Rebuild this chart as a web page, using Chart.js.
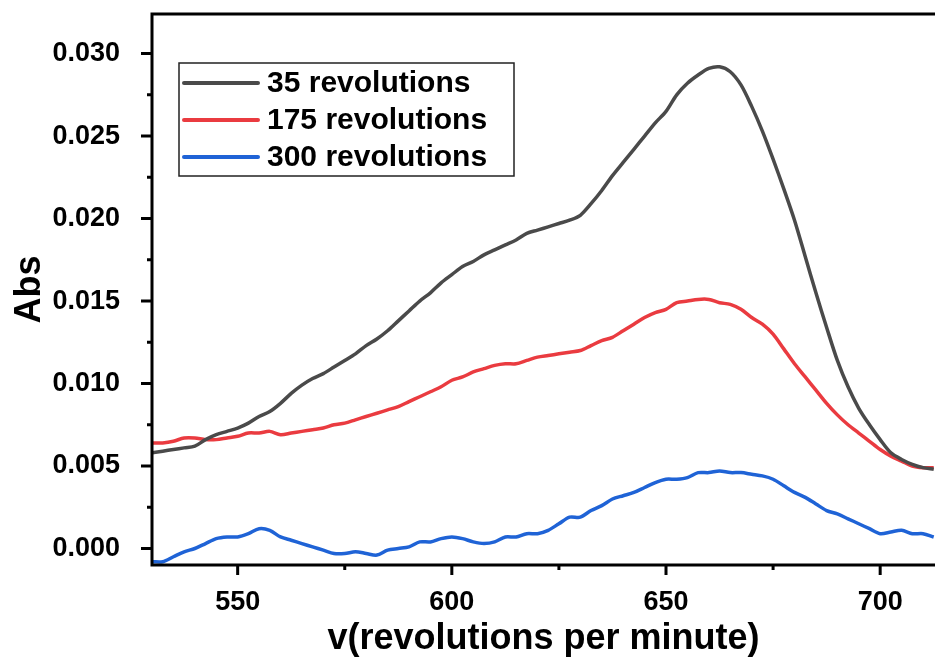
<!DOCTYPE html>
<html>
  <head>
    <title>Abs vs revolutions</title>
    <script src="https://cdn.jsdelivr.net/npm/chart.js"></script>
    <style>
      html,
      body {
        margin: 0;
        padding: 0;
        background: #fff;
      }
      #wrap {
        width: 935px;
        height: 661px;
      }
    </style>
  </head>
  <body>
    <div id="wrap"><canvas id="absChart"></canvas></div>

    <script>
      // x values (revolutions per minute), step 2.5
      const rpm = [
        530, 532.5, 535, 537.5, 540, 542.5, 545, 547.5, 550, 552.5, 555, 557.5,
        560, 562.5, 565, 567.5, 570, 572.5, 575, 577.5, 580, 582.5, 585, 587.5,
        590, 592.5, 595, 597.5, 600, 602.5, 605, 607.5, 610, 612.5, 615, 617.5,
        620, 622.5, 625, 627.5, 630, 632.5, 635, 637.5, 640, 642.5, 645, 647.5,
        650, 652.5, 655, 657.5, 660, 662.5, 665, 667.5, 670, 672.5, 675, 677.5,
        680, 682.5, 685, 687.5, 690, 692.5, 695, 697.5, 700, 702.5, 705, 707.5,
        710, 712.5,
      ];

      const rev35 = [
        0.0058, 0.0059, 0.006, 0.0061, 0.0062, 0.0066, 0.0069, 0.0071, 0.0073,
        0.0076, 0.008, 0.0083, 0.0088, 0.0094, 0.0099, 0.0103, 0.0106, 0.011,
        0.0114, 0.0118, 0.0123, 0.0127, 0.0132, 0.0138, 0.0144, 0.015, 0.0155,
        0.0161, 0.0166, 0.0171, 0.0174, 0.0178, 0.0181, 0.0184, 0.0187, 0.0191,
        0.0193, 0.0195, 0.0197, 0.0199, 0.0202, 0.0209, 0.0217, 0.0226, 0.0234,
        0.0242, 0.025, 0.0258, 0.0265, 0.0275, 0.0282, 0.0287, 0.0291, 0.0292,
        0.0289, 0.0281, 0.0268, 0.0253, 0.0236, 0.0218, 0.0199, 0.0177, 0.0155,
        0.0134, 0.0114, 0.0098, 0.0085, 0.0075, 0.0066, 0.0058, 0.0054, 0.0051,
        0.0049, 0.0048,
      ];

      const rev175 = [
        0.0064, 0.0064, 0.0065, 0.0067, 0.0067, 0.0066, 0.0066, 0.0067, 0.0068,
        0.007, 0.007, 0.0071, 0.0069, 0.007, 0.0071, 0.0072, 0.0073, 0.0075,
        0.0076, 0.0078, 0.008, 0.0082, 0.0084, 0.0086, 0.0089, 0.0092, 0.0095,
        0.0098, 0.0102, 0.0104, 0.0107, 0.0109, 0.0111, 0.0112, 0.0112, 0.0114,
        0.0116, 0.0117, 0.0118, 0.0119, 0.012, 0.0123, 0.0126, 0.0128, 0.0132,
        0.0136, 0.014, 0.0143, 0.0145, 0.0149, 0.015, 0.0151, 0.0151, 0.0149,
        0.0148, 0.0145, 0.014, 0.0136, 0.013, 0.0121, 0.0112, 0.0104, 0.0096,
        0.0088, 0.0081, 0.0075, 0.007, 0.0065, 0.006, 0.0056, 0.0053, 0.005,
        0.0049, 0.0049,
      ];

      const rev300 = [
        -0.0008, -0.0008, -0.0005, -0.0002, 0.0, 0.0003, 0.0006, 0.0007, 0.0007,
        0.0009, 0.0012, 0.0011, 0.0007, 0.0005, 0.0003, 0.0001, -0.0001,
        -0.0003, -0.0003, -0.0002, -0.0003, -0.0004, -0.0001, 0.0, 0.0001,
        0.0004, 0.0004, 0.0006, 0.0007, 0.0006, 0.0004, 0.0003, 0.0004, 0.0007,
        0.0007, 0.0009, 0.0009, 0.0011, 0.0015, 0.0019, 0.0019, 0.0023, 0.0026,
        0.003, 0.0032, 0.0034, 0.0037, 0.004, 0.0042, 0.0042, 0.0043, 0.0046,
        0.0046, 0.0047, 0.0046, 0.0046, 0.0045, 0.0044, 0.0042, 0.0038, 0.0034,
        0.0031, 0.0027, 0.0023, 0.0021, 0.0018, 0.0015, 0.0012, 0.0009, 0.001,
        0.0011, 0.0009, 0.0009, 0.0007,
      ];

      const seriesNames = ["35 revolutions", "175 revolutions", "300 revolutions"];
      const seriesColors = ["#4a4a4a", "#ea3b40", "#1f63d6"];

      const xMajor = [550, 600, 650, 700];
      const xMinor = [575, 625, 675];
      const yMajor = [0, 0.005, 0.01, 0.015, 0.02, 0.025, 0.03];
      const yMinor = [0.0025, 0.0075, 0.0125, 0.0175, 0.0225, 0.0275];

      const FONT = "'Liberation Sans', Arial, sans-serif";

      const toPoints = (vals) => rpm.map((x, i) => ({ x: x, y: vals[i] }));

      // axes frame, ticks and boxed legend
      const framePlugin = {
        id: "frame",
        afterDraw(chart) {
          const ctx = chart.ctx;
          const a = chart.chartArea;
          const xs = chart.scales.x;
          const ys = chart.scales.y;
          ctx.save();
          ctx.strokeStyle = "#000";
          ctx.lineWidth = 3;
          ctx.beginPath();
          ctx.moveTo(a.left, a.top);
          ctx.lineTo(a.right, a.top);
          ctx.moveTo(a.left, a.top - 1.5);
          ctx.lineTo(a.left, a.bottom + 1.5);
          ctx.moveTo(a.left - 1.5, a.bottom);
          ctx.lineTo(a.right, a.bottom);
          ctx.stroke();

          ctx.lineWidth = 3;
          ctx.beginPath();
          xMajor.forEach((v) => {
            const px = xs.getPixelForValue(v);
            ctx.moveTo(px, a.bottom);
            ctx.lineTo(px, a.bottom + 10);
          });
          xMinor.forEach((v) => {
            const px = xs.getPixelForValue(v);
            ctx.moveTo(px, a.bottom);
            ctx.lineTo(px, a.bottom + 5);
          });
          yMajor.forEach((v) => {
            const py = ys.getPixelForValue(v);
            ctx.moveTo(a.left, py);
            ctx.lineTo(a.left - 11, py);
          });
          yMinor.forEach((v) => {
            const py = ys.getPixelForValue(v);
            ctx.moveTo(a.left, py);
            ctx.lineTo(a.left - 5, py);
          });
          ctx.stroke();

          // legend
          const bx = a.left + 27;
          const by = a.top + 49;
          const bw = 335;
          const bh = 113;
          ctx.fillStyle = "#fff";
          ctx.fillRect(bx, by, bw, bh);
          ctx.strokeStyle = "#222";
          ctx.lineWidth = 1.5;
          ctx.strokeRect(bx, by, bw, bh);
          ctx.font = "bold 30px " + FONT;
          ctx.textBaseline = "middle";
          chart.data.datasets.forEach((ds, i) => {
            const ry = by + 20 + i * 37;
            ctx.strokeStyle = ds.borderColor;
            ctx.lineWidth = 4;
            ctx.lineCap = "round";
            ctx.beginPath();
            ctx.moveTo(bx + 5, ry);
            ctx.lineTo(bx + 79, ry);
            ctx.stroke();
            ctx.fillStyle = "#000";
            ctx.fillText(ds.label, bx + 88, ry + 1);
          });
          ctx.restore();
        },
      };

      new Chart(document.getElementById("absChart"), {
        type: "line",
        data: {
          datasets: [
            { label: seriesNames[0], data: toPoints(rev35) },
            { label: seriesNames[1], data: toPoints(rev175) },
            { label: seriesNames[2], data: toPoints(rev300) },
          ].map((ds, i) => ({
            ...ds,
            borderColor: seriesColors[i],
            backgroundColor: seriesColors[i],
            borderWidth: 3.5,
            pointRadius: 0,
            tension: 0.3,
            fill: false,
          })),
        },
        options: {
          responsive: true,
          maintainAspectRatio: false,
          animation: false,
          layout: { padding: { top: 14, right: 0, left: 0, bottom: 0 } },
          plugins: {
            legend: { display: false },
            tooltip: { enabled: false },
          },
          scales: {
            x: {
              type: "linear",
              min: 530,
              max: 712.8,
              afterFit(scale) {
                scale.height = 96;
                scale.paddingLeft = 0;
                scale.paddingRight = 0;
              },
              afterBuildTicks(scale) {
                scale.ticks = xMajor.map((v) => ({ value: v }));
              },
              grid: { display: false },
              border: { display: false },
              ticks: {
                color: "#000",
                padding: 13,
                maxRotation: 0,
                font: { family: FONT, size: 27, weight: "bold" },
              },
              title: {
                display: true,
                text: "v(revolutions per minute)",
                color: "#000",
                padding: { top: 0, bottom: 0 },
                font: { family: FONT, size: 36, weight: "bold" },
              },
            },
            y: {
              min: -0.001,
              max: 0.0324,
              afterFit(scale) {
                scale.width = 152;
                scale.paddingTop = 0;
                scale.paddingBottom = 0;
              },
              afterBuildTicks(scale) {
                scale.ticks = yMajor.map((v) => ({ value: v }));
              },
              grid: { display: false },
              border: { display: false },
              ticks: {
                color: "#000",
                padding: 24,
                font: { family: FONT, size: 27, weight: "bold" },
                callback: (v) => Number(v).toFixed(3),
              },
              title: {
                display: true,
                text: "Abs",
                color: "#000",
                padding: { top: 8, bottom: 0 },
                font: { family: FONT, size: 36, weight: "bold" },
              },
            },
          },
        },
        plugins: [framePlugin],
      });
    </script>
  </body>
</html>
